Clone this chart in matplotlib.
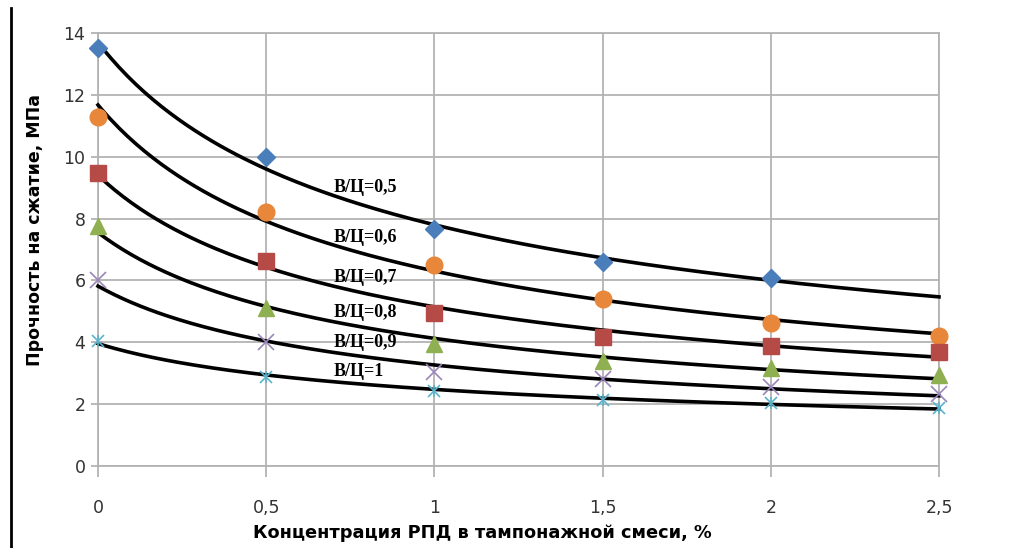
import matplotlib
matplotlib.use('Agg')

import numpy as np
import matplotlib.pyplot as plt
from matplotlib.lines import Line2D

# Концентрация РПД, %
conc = [0, 0.5, 1, 1.5, 2, 2.5]
conc_labels = ['0', '0,5', '1', '1,5', '2', '2,5']

# Прочность на сжатие, МПа (по сериям В/Ц)
wc_05 = [13.5, 10.0, 7.65, 6.6, 6.08]
wc_06 = [11.3, 8.2, 6.5, 5.4, 4.62, 4.21]
wc_07 = [9.47, 6.63, 4.95, 4.18, 3.89, 3.7]
wc_08 = [7.76, 5.12, 3.95, 3.4, 3.17, 2.94]
wc_09 = [6.0, 4.0, 3.05, 2.8, 2.56, 2.33]
wc_10 = [4.05, 2.89, 2.43, 2.13, 2.04, 1.88]

series = [wc_05, wc_06, wc_07, wc_08, wc_09, wc_10]
labels = ['В/Ц=0,5', 'В/Ц=0,6', 'В/Ц=0,7', 'В/Ц=0,8', 'В/Ц=0,9', 'В/Ц=1']
label_y = [8.99, 7.40, 6.11, 4.95, 3.98, 3.04]

colors = ['#4a7ebb', '#e8873a', '#b64a47', '#8fb050', '#9a86bb', '#5ab4cc']
markers = ['D', 'o', 's', '^', 'x', 'x']
msizes = [9, 12, 11, 11, 12, 9]

fig = plt.figure(figsize=(10.24, 5.48), dpi=100)
ax = fig.add_axes([0.0957, 0.1496, 0.8213, 0.7902])

# степенная линия тренда по номеру точки (как в Excel)
t = np.linspace(1, len(conc), 200)
x_t = np.interp(t, np.arange(1, len(conc) + 1), conc)
for ys in series:
    idx = np.arange(1, len(ys) + 1)
    b, ln_a = np.polyfit(np.log(idx), np.log(ys), 1)
    ax.plot(x_t, np.exp(ln_a) * t ** b, color='black', lw=2.6, zorder=3, clip_on=False)

for ys, c, m, ms in zip(series, colors, markers, msizes):
    xs = conc[:len(ys)]
    if m == 'x':
        ax.plot(xs, ys, ls='none', marker='x', ms=ms, mew=1.2, color=c, zorder=4, clip_on=False)
    else:
        ax.plot(xs, ys, ls='none', marker=m, ms=ms, mec=c, color=c, zorder=4, clip_on=False)
# звёздочка для В/Ц=1
ax.plot(conc, wc_10, ls='none', marker='|', ms=9, mew=1.2, color=colors[5], zorder=4, clip_on=False)

for lab, y in zip(labels, label_y):
    ax.text(0.70, y, lab, fontsize=13, fontweight='bold', family='Liberation Serif',
            va='center', ha='left', zorder=5)

ax.set_xlim(0, 2.5)
ax.set_ylim(0, 14)
ax.set_xticks(conc)
ax.set_xticklabels(conc_labels)
ax.set_yticks(range(0, 15, 2))
ax.grid(True, color='#b3b3b3', lw=1.3)
ax.set_axisbelow(True)
for s in ax.spines.values():
    s.set_color('#b3b3b3')
    s.set_linewidth(1.3)
ax.tick_params(axis='x', length=8, width=1.3, color='#b3b3b3', labelsize=12.5,
               labelcolor='#333333', pad=16)
ax.tick_params(axis='y', length=5, width=1.3, color='#b3b3b3', labelsize=12.5,
               labelcolor='#333333', pad=4)

ax.set_xlabel('Концентрация РПД в тампонажной смеси, %', fontsize=12.8, fontweight='bold',
              labelpad=4)
ax.xaxis.set_label_coords(0.457, -0.135)
ax.set_ylabel('Прочность на сжатие, МПа', fontsize=12.5, fontweight='bold')
ax.yaxis.set_label_coords(-0.064, 0.545)

fig.add_artist(Line2D([0.0107, 0.0107], [0, 0.985], color='black', lw=2))

fig.savefig('out.png', dpi=100, facecolor='white')
